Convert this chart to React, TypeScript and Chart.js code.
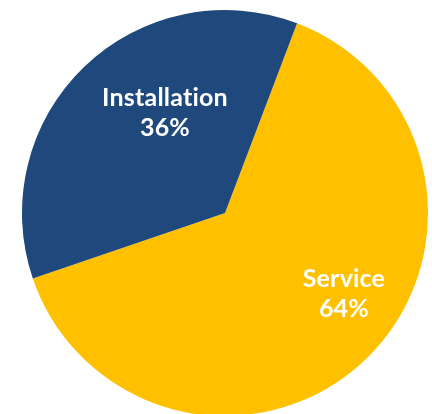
import React, { useEffect, useRef } from "react";
import { Chart, registerables } from "chart.js";

Chart.register(...registerables);

const categories: string[] = ["Service", "Installation"];
const values: number[] = [64, 36];
const percentLabels: string[] = ["64%", "36%"];
const colors: string[] = ["#FFC000", "#1F497D"];
// label placement: [angle in degrees clockwise from top, fraction of radius]
const labelAngles: number[] = [124.4, 329];
const labelRadii: number[] = [0.71, 0.574];

const labelPlugin = {
  id: "sliceLabels",
  afterDatasetsDraw(chart: any) {
    const meta = chart.getDatasetMeta(0);
    const ctx = chart.ctx;
    ctx.save();
    ctx.fillStyle = "#FFFFFF";
    ctx.font = "bold 25px Lato";
    try {
      (ctx as any).letterSpacing = "0.2px";
    } catch (e) {}
    ctx.textAlign = "center";
    ctx.textBaseline = "middle";
    meta.data.forEach((arc: any, i: number) => {
      const a = (labelAngles[i] * Math.PI) / 180;
      const r = arc.outerRadius * labelRadii[i];
      const x = arc.x + r * Math.sin(a);
      const y = arc.y - r * Math.cos(a);
      ctx.fillText(categories[i], x, y - 15);
      ctx.fillText(percentLabels[i], x, y + 15);
    });
    ctx.restore();
  },
};

export default function App() {
  const ref = useRef<HTMLCanvasElement>(null);
  useEffect(() => {
    document.body.style.margin = "0";
    document.body.style.overflow = "hidden";
    if (!ref.current) return;
    const chart = new Chart(ref.current, {
      type: "pie",
      data: {
        labels: categories,
        datasets: [
          {
            data: values,
            backgroundColor: colors,
            borderWidth: 0,
          },
        ],
      },
      options: {
        animation: false,
        responsive: true,
        maintainAspectRatio: false,
        rotation: 20.8,
        layout: { padding: { left: 22, right: 4, top: 10, bottom: 14 } },
        plugins: {
          legend: { display: false },
          tooltip: { enabled: false },
        },
      },
      plugins: [labelPlugin],
    });
    return () => chart.destroy();
  }, []);
  return (
    <div style={{ position: "fixed", left: 0, top: 0, width: 432, height: 414, overflow: "hidden", background: "#fff" }}>
      <div style={{ position: "relative", width: 432, height: 430 }}>
        <canvas ref={ref} />
      </div>
    </div>
  );
}
